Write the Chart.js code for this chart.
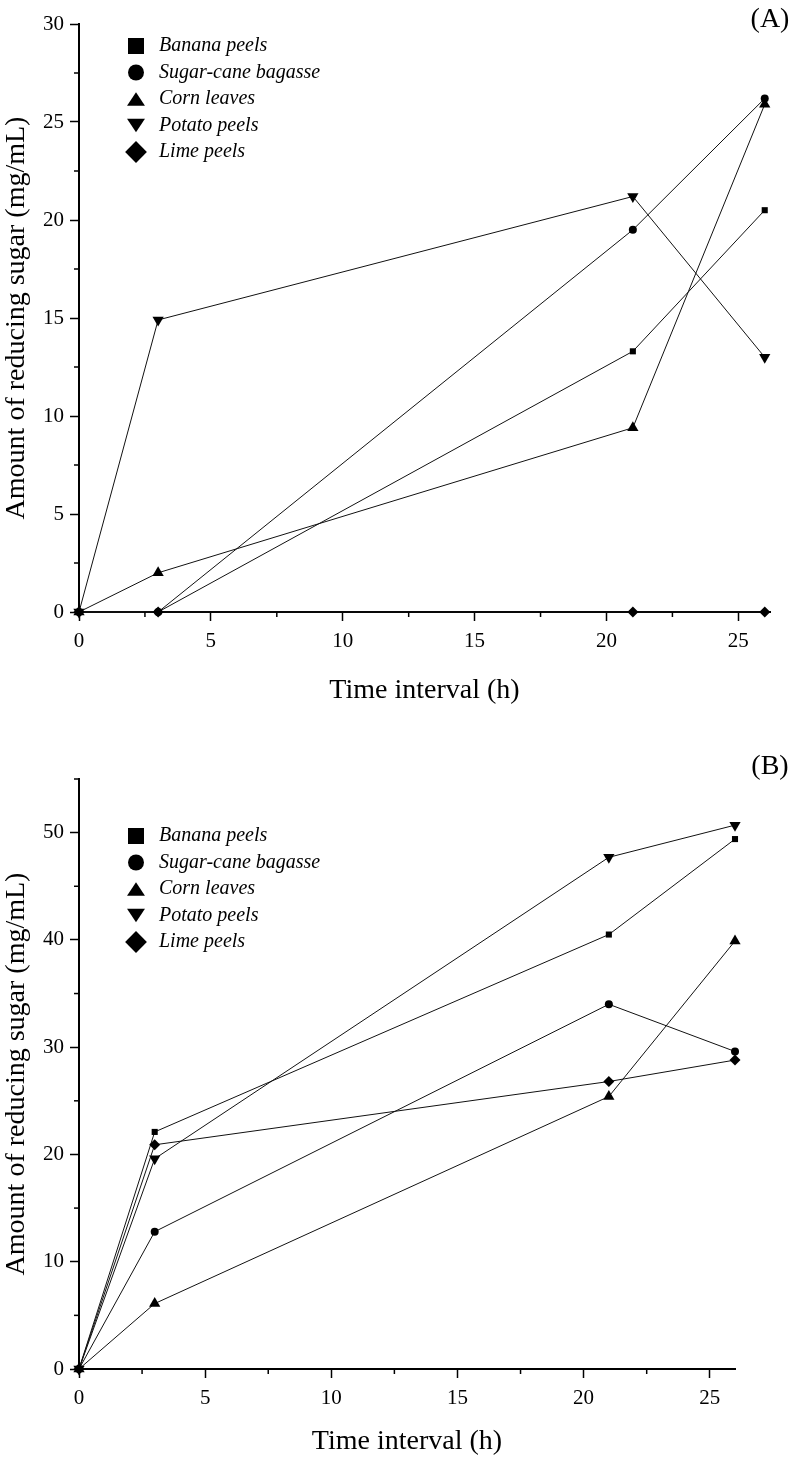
<!DOCTYPE html>
<html><head><meta charset="utf-8">
<script src="https://cdn.jsdelivr.net/npm/chart.js@4"></script>
<style>
html,body{margin:0;padding:0;background:#fff;}
#wrap{position:relative;width:792px;height:1460px;}
canvas{display:block;}
</style></head><body>
<div id="wrap">
<canvas id="chartA" width="792" height="720"></canvas>
<canvas id="chartB" width="792" height="740"></canvas>
</div>
<script>
// ---------- DATA ----------
const seriesNames = ['Banana peels', 'Sugar-cane bagasse', 'Corn leaves', 'Potato peels', 'Lime peels'];

// Panel (A)
const timeA    = [0, 3, 21, 26];
const bananaA  = [0, 0, 13.3, 20.5];
const bagasseA = [0, 0, 19.5, 26.2];
const cornA    = [0, 2.0, 9.4, 25.9];
const potatoA  = [0, 14.9, 21.2, 13.0];
const limeA    = [0, 0, 0, 0];
const xTicksA  = [0, 5, 10, 15, 20, 25];
const yTicksA  = [0, 5, 10, 15, 20, 25, 30];

// Panel (B)
const timeB    = [0, 3, 21, 26];
const bananaB  = [0, 22.1, 40.5, 49.4];
const bagasseB = [0, 12.8, 34.0, 29.6];
const cornB    = [0, 6.1, 25.4, 39.9];
const potatoB  = [0, 19.6, 47.7, 50.7];
const limeB    = [0, 20.9, 26.8, 28.8];
const xTicksB  = [0, 5, 10, 15, 20, 25];
const yTicksB  = [0, 10, 20, 30, 40, 50];

const xTitle = 'Time interval (h)';
const yTitle = 'Amount of reducing sugar (mg/mL)';

// ---------- STYLE ----------
const SERIF = "'Liberation Serif', 'Times New Roman', serif";
const markerStyles = [
  {pointStyle: 'rect', radius: 4.3, rotation: 0},
  {pointStyle: 'circle', radius: 4, rotation: 0},
  {pointStyle: 'triangle', radius: 6.5, rotation: 0},
  {pointStyle: 'triangle', radius: 6.5, rotation: 180},
  {pointStyle: 'rectRot', radius: 5.5, rotation: 0}
];
const drawOrder = [2, 1, 3, 4, 0];

function pts(xs, ys) { return xs.map((x, i) => ({x: x, y: ys[i]})); }

function makeDatasets(xs, seriesList) {
  return seriesList.map((ys, i) => ({
    label: seriesNames[i],
    data: pts(xs, ys),
    borderColor: '#111',
    borderWidth: 1,
    backgroundColor: '#000',
    pointBackgroundColor: '#000',
    pointBorderColor: '#000',
    pointBorderWidth: 0,
    pointStyle: markerStyles[i].pointStyle,
    pointRadius: markerStyles[i].radius,
    pointRotation: markerStyles[i].rotation,
    pointHoverRadius: markerStyles[i].radius,
    order: drawOrder[i],
    clip: false,
    tension: 0,
    fill: false
  }));
}

// ---------- PLUGINS ----------
const minorTicks = {
  id: 'minorTicks',
  afterDraw(chart, args, o) {
    const ctx = chart.ctx;
    ctx.save();
    ctx.strokeStyle = '#000';
    ctx.lineWidth = 1.5;
    ['x', 'y'].forEach(id => {
      const s = chart.scales[id];
      const step = o[id + 'Step'], major = o[id + 'Major'];
      for (let k = 0; ; k++) {
        const v = s.min + k * step;
        if (v > s.max + 1e-9) break;
        const r = v / major;
        if (Math.abs(r - Math.round(r)) < 1e-6) continue;
        const p = s.getPixelForValue(v);
        ctx.beginPath();
        if (id === 'x') { ctx.moveTo(p, s.top); ctx.lineTo(p, s.top + o.len); }
        else { ctx.moveTo(s.right, p); ctx.lineTo(s.right - o.len, p); }
        ctx.stroke();
      }
    });
    ctx.restore();
  }
};

function drawMarker(ctx, style, rot, x, y, size) {
  ctx.beginPath();
  if (style === 'rect') {
    ctx.rect(x - size / 2, y - size / 2, size, size);
  } else if (style === 'circle') {
    ctx.arc(x, y, size / 2, 0, Math.PI * 2);
  } else if (style === 'triangle') {
    const w = size * 0.56, h = size * 0.42;
    if (rot === 180) {
      ctx.moveTo(x - w, y - h); ctx.lineTo(x + w, y - h); ctx.lineTo(x, y + h);
    } else {
      ctx.moveTo(x - w, y + h); ctx.lineTo(x + w, y + h); ctx.lineTo(x, y - h);
    }
    ctx.closePath();
  } else if (style === 'rectRot') {
    const d = size * 0.68;
    ctx.moveTo(x, y - d); ctx.lineTo(x + d, y); ctx.lineTo(x, y + d); ctx.lineTo(x - d, y);
    ctx.closePath();
  }
  ctx.fill();
}

const cornerLegend = {
  id: 'cornerLegend',
  afterDraw(chart, args, o) {
    const ctx = chart.ctx;
    ctx.save();
    ctx.font = o.font;
    ctx.textBaseline = 'middle';
    ctx.textAlign = 'left';
    ctx.fillStyle = '#000';
    chart.data.datasets.forEach((ds, i) => {
      const y = o.y + i * o.rowGap;
      drawMarker(ctx, ds.pointStyle, ds.pointRotation || 0, o.markerX, y, o.markerSize);
      ctx.fillText(ds.label, o.textX, y);
    });
    ctx.restore();
  }
};

const panelLabel = {
  id: 'panelLabel',
  afterDraw(chart, args, o) {
    const ctx = chart.ctx;
    ctx.save();
    ctx.font = o.font;
    ctx.textAlign = 'center';
    ctx.textBaseline = 'middle';
    ctx.fillStyle = '#000';
    ctx.fillText(o.text, o.x, o.y);
    ctx.restore();
  }
};

// ---------- CHART FACTORY ----------
function buildChart(canvasId, cfg) {
  return new Chart(document.getElementById(canvasId), {
    type: 'line',
    data: {datasets: makeDatasets(cfg.time, cfg.series)},
    plugins: [minorTicks, cornerLegend, panelLabel],
    options: {
      responsive: false,
      animation: false,
      devicePixelRatio: 1,
      layout: {padding: {left: 0, right: cfg.padRight, top: cfg.padTop, bottom: 0}},
      plugins: {
        legend: {display: false},
        tooltip: {enabled: false},
        minorTicks: {xStep: 2.5, xMajor: 5, yStep: cfg.yMinor, yMajor: cfg.yMajor, len: 5},
        cornerLegend: {font: 'italic 20px ' + SERIF, markerX: 136, textX: 159, y: cfg.legendY, rowGap: 26.5, markerSize: 16},
        panelLabel: {text: cfg.panel, font: '28px ' + SERIF, x: 770, y: cfg.panelY}
      },
      scales: {
        x: {
          type: 'linear',
          min: 0, max: cfg.xMax,
          afterFit: s => { s.height = cfg.xAxisH; },
          afterBuildTicks: s => { s.ticks = cfg.xTicks.map(v => ({value: v})); },
          border: {display: true, color: '#000', width: 2},
          grid: {display: true, drawOnChartArea: false, drawTicks: true, tickLength: 9, tickColor: '#000', tickWidth: 1.5},
          ticks: {color: '#000', font: {family: SERIF, size: 21}, padding: 8, maxRotation: 0, autoSkip: false},
          title: {display: true, text: xTitle, color: '#000', font: {family: SERIF, size: 28}, padding: {top: 0, bottom: cfg.xTitlePad}}
        },
        y: {
          type: 'linear',
          min: 0, max: cfg.yMax,
          afterFit: s => { s.width = 79; },
          afterBuildTicks: s => { s.ticks = cfg.yTicks.map(v => ({value: v})); },
          border: {display: true, color: '#000', width: 2},
          grid: {display: true, drawOnChartArea: false, drawTicks: true, tickLength: 9, tickColor: '#000', tickWidth: 1.5},
          ticks: {color: '#000', font: {family: SERIF, size: 21}, padding: 6, autoSkip: false},
          title: {display: true, text: yTitle, color: '#000', font: {family: SERIF, size: 28}, padding: {top: 0, bottom: 0}}
        }
      }
    }
  });
}

buildChart('chartA', {
  time: timeA,
  series: [bananaA, bagasseA, cornA, potatoA, limeA],
  xMax: 26.2, yMax: 30, yMinor: 2.5, yMajor: 5,
  xTicks: xTicksA, yTicks: yTicksA,
  padRight: 22, padTop: 24, xAxisH: 108, xTitlePad: 13,
  legendY: 46, panel: '(A)', panelY: 20
});

buildChart('chartB', {
  time: timeB,
  series: [bananaB, bagasseB, cornB, potatoB, limeB],
  xMax: 26, yMax: 55, yMinor: 5, yMajor: 10,
  xTicks: xTicksB, yTicks: yTicksB,
  padRight: 57, padTop: 59, xAxisH: 91, xTitlePad: 2,
  legendY: 116, panel: '(B)', panelY: 47
});
</script>
</body></html>
